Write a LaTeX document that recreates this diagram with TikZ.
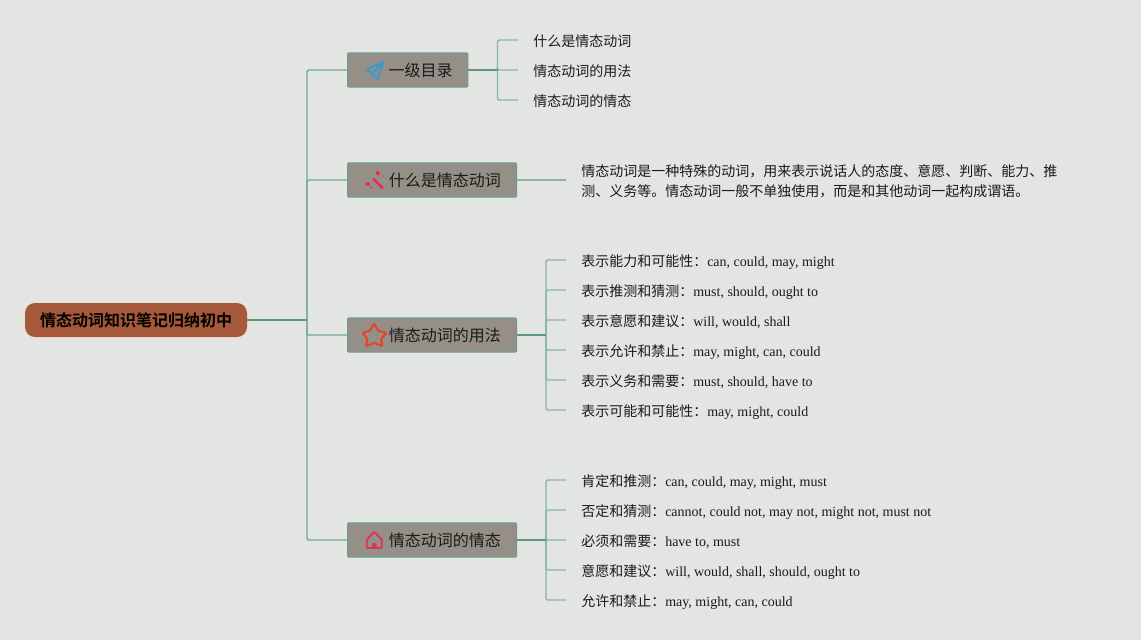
\documentclass[tikz,border=0pt]{standalone}
\usepackage{fontspec}
\setmainfont{Liberation Serif}
\newfontfamily\cjk{Noto Sans CJK SC}
\newfontfamily\cjkb{Noto Sans CJK SC Bold}
\definecolor{bgc}{HTML}{E3E5E2}
\definecolor{rootc}{HTML}{A5583A}
\definecolor{boxc}{HTML}{968F87}
\definecolor{boxe}{HTML}{6A9C8E}
\definecolor{darkl}{HTML}{5F9683}
\definecolor{lightl}{HTML}{8AB5A5}
\definecolor{trunkc}{HTML}{74A897}
\definecolor{planec}{HTML}{3A9AD0}
\definecolor{starc}{HTML}{E5452F}
\definecolor{pinkc}{HTML}{E0305F}
\definecolor{txt}{HTML}{1A1A1A}
\newcommand{\branchtext}[1]{\raisebox{-1.2pt}{#1}}
\tikzset{
  x=0.75pt,y=-0.75pt,
  rootbox/.style={draw=none,fill=rootc,rounded corners=7.5pt,minimum width=166.5pt,minimum height=25.5pt,inner sep=0pt,text=black,font=\cjkb\fontsize{12}{14}\selectfont},
  branchbox/.style={draw=boxe,line width=0.9pt,fill=boxc,rounded corners=0.8pt,minimum height=25.5pt,inner ysep=0pt,inner xsep=0pt,text=txt,anchor=west,font=\cjk\fontsize{12}{14}\selectfont},
  leafnode/.style={anchor=west,inner ysep=0pt,inner xsep=11.25pt,text=txt,font=\fontsize{10.5}{15}\selectfont,align=left},
  trunk/.style={draw=trunkc,line width=1.1pt},
  stem/.style={draw=darkl,line width=1.3pt},
  twig/.style={draw=lightl,line width=1.1pt},
}
\begin{document}
\begin{tikzpicture}
\fill[bgc] (0,0) rectangle (1141,640);
\useasboundingbox (0,0) rectangle (1141,640);
% nodes
\node[rootbox] (root) at (136,320) {情态动词知识笔记归纳初中};
\node[branchbox,minimum width=90.2pt] (b1) at (347,70) {\hspace*{30.7pt}\branchtext{一级目录}\hspace*{11.3pt}};
\node[branchbox,minimum width=126.6pt] (b2) at (347,180) {\hspace*{30.7pt}\branchtext{什么是情态动词}\hspace*{11.3pt}};
\node[branchbox,minimum width=126.6pt] (b3) at (347,335) {\hspace*{30.7pt}\branchtext{情态动词的用法}\hspace*{11.3pt}};
\node[branchbox,minimum width=126.6pt] (b4) at (347,540) {\hspace*{30.7pt}\branchtext{情态动词的情态}\hspace*{11.3pt}};
% level 1 leaves
\node[leafnode] (a1) at (518,41) {{\cjk 什么是情态动词}};
\node[leafnode] (a2) at (518,71) {{\cjk 情态动词的用法}};
\node[leafnode] (a3) at (518,101) {{\cjk 情态动词的情态}};
% description
\node[leafnode] (d1) at (566,181) {{\cjk 情态动词是一种特殊的动词，用来表示说话人的态度、意愿、判断、能力、推}\\{\cjk 测、义务等。情态动词一般不单独使用，而是和其他动词一起构成谓语。}};
% usage leaves
\node[leafnode] (u1) at (566,262) {{\cjk 表示能力和可能性：}can, could, may, might};
\node[leafnode] (u2) at (566,292) {{\cjk 表示推测和猜测：}must, should, ought to};
\node[leafnode] (u3) at (566,322) {{\cjk 表示意愿和建议：}will, would, shall};
\node[leafnode] (u4) at (566,352) {{\cjk 表示允许和禁止：}may, might, can, could};
\node[leafnode] (u5) at (566,382) {{\cjk 表示义务和需要：}must, should, have to};
\node[leafnode] (u6) at (566,412) {{\cjk 表示可能和可能性：}may, might, could};
% modality leaves
\node[leafnode] (m1) at (566,482) {{\cjk 肯定和推测：}can, could, may, might, must};
\node[leafnode] (m2) at (566,512) {{\cjk 否定和猜测：}cannot, could not, may not, might not, must not};
\node[leafnode] (m3) at (566,542) {{\cjk 必须和需要：}have to, must};
\node[leafnode] (m4) at (566,572) {{\cjk 意愿和建议：}will, would, shall, should, ought to};
\node[leafnode] (m5) at (566,602) {{\cjk 允许和禁止：}may, might, can, could};
% spine coordinates
\coordinate (s0) at (307,320);
\coordinate (s1) at (497.5,70);
\coordinate (s3) at (546,335);
\coordinate (s4) at (546,540);
% root connectors
\foreach \b in {b1,b2,b3,b4}{\draw[trunk,rounded corners=1.5pt] (s0) |- (\b.west);}
\draw[stem] (root.east) -- (s0);
% branch 1
\foreach \n/\yy in {a1/40,a2/70,a3/100}{\draw[twig,rounded corners=1.5pt] (s1) |- (518,\yy);}
\draw[stem] (b1.east) -- (s1);
% branch 2
\draw[twig] (b2.east) -- (d1.west |- b2.east);
% branch 3
\foreach \n/\yy in {1/260,2/290,3/320,4/350,5/380,6/410}{\draw[twig,rounded corners=1.5pt] (s3) |- (566,\yy);}
\draw[stem] (b3.east) -- (s3);
% branch 4
\foreach \n/\yy in {1/480,2/510,3/540,4/570,5/600}{\draw[twig,rounded corners=1.5pt] (s4) |- (566,\yy);}
\draw[stem] (b4.east) -- (s4);
% plane icon
\draw[planec,line width=1.4pt,line join=round] (383.5,62) -- (366.5,69.5) -- (372.5,73.5) -- (377.5,79) -- cycle;
\draw[planec,line width=1.4pt,line join=round] (383.5,62) -- (372.5,73.5) -- (372.5,77.5);
% wand icon
\draw[pinkc,line width=2pt,line cap=round] (373.5,179) -- (382.5,188);
\fill[pinkc] (377.8,173.3) circle[radius=2.2];
\fill[pinkc] (367.8,184) circle[radius=2.2];
\fill[pinkc] (371.5,187.5) circle[radius=1.2];
\fill[pinkc] (382.5,176) circle[radius=0.9];
% star icon
\draw[starc,line width=1.6pt,line join=round,rounded corners=0.8pt] (374,323.5) -- (378.3,330.8) -- (386.5,332.7) -- (381,339) -- (382.3,346.3) -- (374.3,342.7) -- (366,346.3) -- (367.4,339) -- (362.3,332.7) -- (370,330.8) -- cycle;
% house icon
\draw[pinkc,line width=1.4pt,line join=round,rounded corners=0.6pt] (366.8,539.5) -- (374.2,531.8) -- (381.8,539.5) -- (381.8,548) -- (366.8,548) -- cycle;
\fill[pinkc,rounded corners=1pt] (371.8,548) rectangle (376.6,543);
\end{tikzpicture}
\end{document}
